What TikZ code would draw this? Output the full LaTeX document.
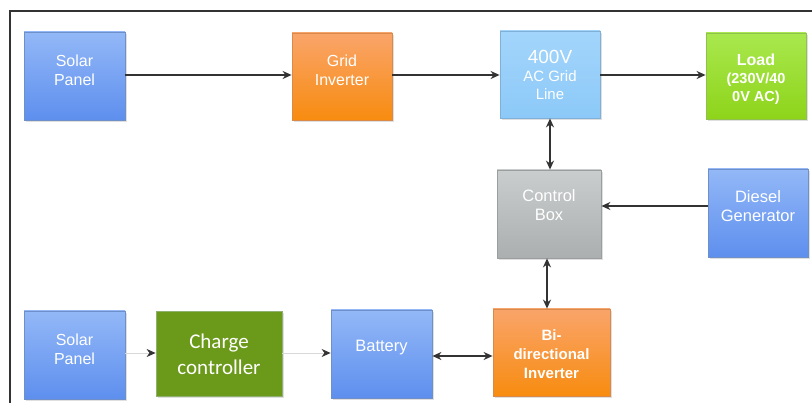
\documentclass[tikz,border=0pt]{standalone}
\usepackage{fontspec}
\setmainfont{Liberation Sans}
\newfontfamily\carl{Carlito}
\usetikzlibrary{arrows.meta,shadows}
\definecolor{bluetop}{HTML}{93B8F7}
\definecolor{bluebot}{HTML}{5E8FEE}
\definecolor{blueedge}{HTML}{6F8FC8}
\definecolor{orgtop}{HTML}{F9A46A}
\definecolor{orgbot}{HTML}{F88C10}
\definecolor{orgedge}{HTML}{D98A4A}
\definecolor{lbtop}{HTML}{A3D5FB}
\definecolor{lbbot}{HTML}{8CC9F8}
\definecolor{lbedge}{HTML}{7FB0D8}
\definecolor{grtop}{HTML}{A9E84E}
\definecolor{grbot}{HTML}{8ED41A}
\definecolor{gredge}{HTML}{90C050}
\definecolor{gytop}{HTML}{C9CDCD}
\definecolor{gybot}{HTML}{ABAFAF}
\definecolor{gyedge}{HTML}{9A9E9E}
\definecolor{dkgreen}{HTML}{6B9A1B}
\definecolor{dkgedge}{HTML}{8FB070}
\definecolor{linec}{HTML}{333333}
\tikzset{
  x=1pt,y=1pt,
  boxbase/.style={draw, line width=0.8pt, inner sep=0pt,
    drop shadow={shadow xshift=2pt,shadow yshift=-2pt,opacity=0.25}},
  bluebox/.style={boxbase, top color=bluetop, bottom color=bluebot, draw=blueedge},
  orgbox/.style={boxbase, top color=orgtop, bottom color=orgbot, draw=orgedge},
  lbbox/.style={boxbase, top color=lbtop, bottom color=lbbot, draw=lbedge},
  grbox/.style={boxbase, top color=grtop, bottom color=grbot, draw=gredge},
  gybox/.style={boxbase, top color=gytop, bottom color=gybot, draw=gyedge},
  dgbox/.style={boxbase, fill=dkgreen, draw=dkgedge},
  txt/.style={text=white, align=center, inner sep=0pt, font=\fontsize{16}{19}\selectfont},
  conn/.style={draw=linec, line width=1.3pt, -{Stealth[length=9pt,width=8pt]}},
  bconn/.style={draw=linec, line width=1.3pt, {Stealth[length=9pt,width=8pt]}-{Stealth[length=9pt,width=8pt]}},
  lconn/.style={draw=black!15, line width=0.8pt, -{Stealth[length=9pt,width=8pt,color=linec]}},
}
\begin{document}
\begin{tikzpicture}
\useasboundingbox (0,0) rectangle (812,-403);
\fill[white] (0,0) rectangle (812,-403);
\draw[line width=1.5pt, draw=linec] (10,-403) -- (10,-11) -- (812,-11);
% top row
\node[bluebox, minimum width=101pt, minimum height=88pt] (sp1) at (74.5,-76) {};
\node[txt] (sp1t) at (74.5,-70) {Solar\\Panel};
\node[orgbox, minimum width=100pt, minimum height=87pt] (gi) at (342,-76.5) {};
\node[txt] (git) at (342,-70) {Grid\\Inverter};
\node[lbbox, minimum width=100pt, minimum height=87pt] (ac) at (550,-74.5) {};
\node[txt, font=\fontsize{15}{18}\selectfont] (act) at (550,-75) {{\fontsize{19}{20}\selectfont 400V}\\AC Grid\\Line};
\node[grbox, minimum width=100pt, minimum height=86pt] (ld) at (756,-76) {};
\node[txt, font=\bfseries\fontsize{14.5}{18}\selectfont] (ldt) at (756,-79) {{\fontsize{16}{19}\selectfont Load}\\(230V/40\\0V AC)};
% middle row
\node[gybox, minimum width=104pt, minimum height=88pt] (cb) at (549,-214) {};
\node[txt, font=\fontsize{16.5}{19}\selectfont] (cbt) at (549,-205) {Control\\Box};
\node[bluebox, minimum width=100pt, minimum height=88pt] (dg) at (758,-213) {};
\node[txt, font=\fontsize{16.5}{19}\selectfont] (dgt) at (758,-206) {Diesel\\Generator};
% bottom row
\node[bluebox, minimum width=101pt, minimum height=88pt] (sp2) at (74.5,-355) {};
\node[txt] (sp2t) at (74.5,-349) {Solar\\Panel};
\node[dgbox, minimum width=126pt, minimum height=85pt] (cc) at (219,-353.5) {};
\node[txt, font=\carl\fontsize{21}{26}\selectfont] (cct) at (219,-354) {Charge\\controller};
\node[bluebox, minimum width=101pt, minimum height=88pt] (bat) at (381.5,-354) {};
\node[txt, font=\fontsize{16.5}{19}\selectfont] (batt) at (381.5,-348) {Battery};
\node[orgbox, minimum width=117pt, minimum height=87pt] (bi) at (551.5,-352.5) {};
\node[txt, font=\bfseries\fontsize{15}{19}\selectfont] (bit) at (551.5,-354) {Bi-\\directional\\Inverter};
% connectors
\draw[conn] (sp1.east |- 0,-75) -- (gi.west |- 0,-75);
\draw[conn] (gi.east |- 0,-75) -- (ac.west |- 0,-75);
\draw[conn] (ac.east |- 0,-75) -- (ld.west |- 0,-75);
\draw[bconn] (ac.south -| 550,0) -- (cb.north -| 550,0);
\draw[conn] (dg.west |- 0,-206) -- (cb.east |- 0,-206);
\draw[bconn] (cb.south -| 547,0) -- (bi.north -| 547,0);
\draw[lconn] (sp2.east |- 0,-353) -- (cc.west |- 0,-353);
\draw[lconn] (cc.east |- 0,-353) -- (bat.west |- 0,-353);
\draw[bconn] (bat.east |- 0,-356) -- (bi.west |- 0,-356);
\end{tikzpicture}
\end{document}
